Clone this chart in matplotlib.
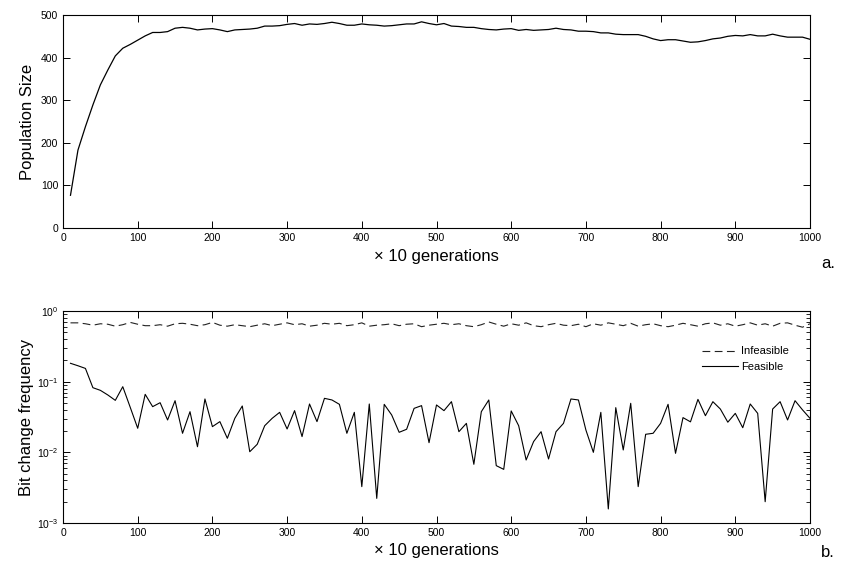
import numpy as np
import matplotlib
matplotlib.use("Agg")
import matplotlib.pyplot as plt
from matplotlib.ticker import LogLocator, NullFormatter

plt.rcParams['font.family'] = ['Liberation Sans', 'DejaVu Sans']

# generations (x 10)
gens = np.arange(10, 1001, 10)

# panel a: population size
population = [
    77, 183, 238, 289, 336, 371, 404, 422, 431, 441,
    451, 459, 459, 461, 469, 471, 469, 465, 467, 468,
    465, 461, 465, 466, 467, 469, 474, 474, 475, 478,
    480, 476, 479, 478, 480, 483, 480, 476, 476, 479,
    477, 476, 474, 475, 477, 479, 479, 484, 480, 477,
    480, 474, 473, 471, 471, 468, 466, 465, 467, 468,
    464, 466, 464, 465, 466, 469, 466, 465, 462, 462,
    461, 458, 458, 455, 454, 454, 454, 450, 444, 440,
    442, 442, 439, 436, 437, 440, 444, 446, 450, 452,
    451, 454, 451, 451, 455, 451, 448, 448, 448, 443,
]

# panel b: bit change frequency
infeasible = [
    0.68, 0.68, 0.66, 0.63, 0.66, 0.65, 0.61, 0.64, 0.69, 0.65,
    0.62, 0.62, 0.64, 0.61, 0.66, 0.67, 0.65, 0.62, 0.64, 0.69,
    0.63, 0.61, 0.64, 0.62, 0.60, 0.63, 0.66, 0.62, 0.65, 0.68,
    0.64, 0.66, 0.61, 0.63, 0.67, 0.65, 0.67, 0.62, 0.64, 0.68,
    0.61, 0.63, 0.64, 0.66, 0.62, 0.65, 0.66, 0.60, 0.63, 0.65,
    0.67, 0.64, 0.66, 0.62, 0.60, 0.64, 0.70, 0.65, 0.61, 0.66,
    0.63, 0.68, 0.62, 0.60, 0.64, 0.67, 0.63, 0.62, 0.65, 0.60,
    0.66, 0.63, 0.68, 0.65, 0.62, 0.67, 0.61, 0.64, 0.66, 0.62,
    0.60, 0.63, 0.67, 0.64, 0.61, 0.66, 0.68, 0.63, 0.66, 0.61,
    0.64, 0.68, 0.63, 0.66, 0.61, 0.67, 0.68, 0.63, 0.59, 0.66,
]
feasible = [
    0.182, 0.168, 0.154, 0.0822, 0.0754, 0.0648, 0.0544, 0.0849, 0.0433, 0.0219,
    0.0662, 0.0443, 0.0504, 0.0287, 0.0538, 0.0186, 0.0376, 0.0120, 0.0569, 0.0231,
    0.0272, 0.0158, 0.0303, 0.0453, 0.0102, 0.0130, 0.0238, 0.0303, 0.0368, 0.0214,
    0.0389, 0.0167, 0.0483, 0.0272, 0.0581, 0.0551, 0.0478, 0.0186, 0.0368, 0.00327,
    0.0483, 0.00223, 0.0478, 0.0338, 0.0192, 0.0212, 0.0419, 0.0458, 0.0137, 0.0468,
    0.0389, 0.0521, 0.0196, 0.0257, 0.00677, 0.0376, 0.0551, 0.00648, 0.00574, 0.0385,
    0.0238, 0.00779, 0.0142, 0.0196, 0.00805, 0.0196, 0.0257, 0.0569, 0.0551, 0.0207,
    0.0100, 0.0368, 0.00158, 0.0429, 0.0108, 0.0494, 0.00327, 0.0180, 0.0186, 0.0257,
    0.0478, 0.00968, 0.0310, 0.0270, 0.0562, 0.0330, 0.0521, 0.0410, 0.0267, 0.0356,
    0.0223, 0.0483, 0.0356, 0.00200, 0.0410, 0.0521, 0.0287, 0.0538, 0.0399, 0.0303,
]

fig = plt.figure(figsize=(8.47, 5.66), dpi=100)
ax1 = fig.add_axes([0.0744, 0.597, 0.8819, 0.3765])
ax2 = fig.add_axes([0.0744, 0.076, 0.8819, 0.3745])

for ax in (ax1, ax2):
    ax.tick_params(direction='in', top=True, right=True, labelsize=7.5,
                   length=5, width=0.7)
    ax.tick_params(which='minor', direction='in', top=True, right=True,
                   length=3, width=0.6)
    for s in ax.spines.values():
        s.set_linewidth(0.8)
    ax.set_xlim(0, 1000)
    ax.set_xticks(range(0, 1001, 100))
    ax.set_xlabel('\u00d7 10 generations', fontsize=12, labelpad=4)

# panel a
ax1.plot(gens, population, color='black', lw=0.9)
ax1.set_ylim(0, 500)
ax1.set_yticks(range(0, 501, 100))
ax1.set_ylabel('Population Size', fontsize=12, labelpad=4)

# panel b
ax2.plot(gens, infeasible, color='#222222', lw=0.8, ls=(0, (7, 4)),
         label='Infeasible')
ax2.plot(gens, feasible, color='black', lw=0.8, label='Feasible')
ax2.set_yscale('log')
ax2.set_ylim(1e-3, 1)
ax2.yaxis.set_major_locator(LogLocator(base=10, numticks=10))
ax2.yaxis.set_minor_locator(LogLocator(base=10, subs=np.arange(2, 10), numticks=20))
ax2.yaxis.set_minor_formatter(NullFormatter())
ax2.set_ylabel('Bit change frequency', fontsize=12, labelpad=2)
ax2.legend(loc='upper right', bbox_to_anchor=(0.985, 0.88), frameon=False,
           fontsize=8, handlelength=3.2, handletextpad=0.3, labelspacing=0.5)

fig.text(0.986, 0.535, 'a.', fontsize=12, ha='right', va='center')
fig.text(0.986, 0.024, 'b.', fontsize=12, ha='right', va='center')

fig.savefig('out.png', dpi=100)
